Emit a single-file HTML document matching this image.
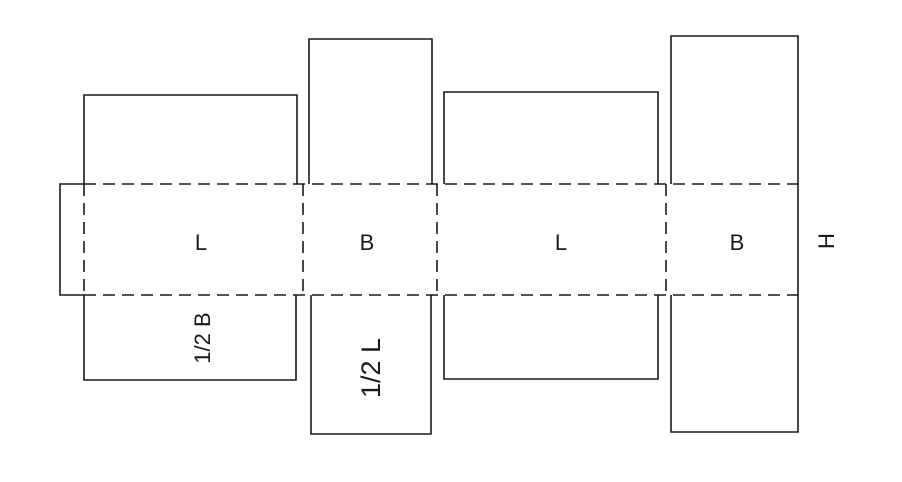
<!DOCTYPE html>
<html><head><style>body{margin:0;background:#fff}</style></head><body>
<svg width="902" height="477" viewBox="0 0 902 477" xmlns="http://www.w3.org/2000/svg" font-family="Liberation Sans, sans-serif" fill="none" stroke="#1a1a1a" stroke-width="1.6">
<rect x="0" y="0" width="902" height="477" fill="#fff" stroke="none"/>
<polyline points="84,184 84,95 297,95 297,184"/>
<polyline points="84,295 84,380 296,380 296,295"/>
<polyline points="309,184 309,39 432,39 432,184"/>
<polyline points="311,295 311,434 431,434 431,295"/>
<polyline points="444,184 444,92 658,92 658,184"/>
<polyline points="444,295 444,379 658,379 658,295"/>
<polyline points="671,184 671,36 798,36 798,184"/>
<polyline points="671,295 671,432 798,432 798,295"/>
<polyline points="84,184 60,184 60,295 84,295"/>
<line x1="798" y1="184" x2="798" y2="295"/>
<g stroke-dasharray="12,7">
<line x1="84" y1="184" x2="798" y2="184"/>
<line x1="84" y1="295" x2="798" y2="295"/>
<line x1="84" y1="184" x2="84" y2="295"/>
<line x1="303" y1="184" x2="303" y2="295"/>
<line x1="437" y1="184" x2="437" y2="295"/>
<line x1="666" y1="184" x2="666" y2="295"/>
</g>
<g fill="#1a1a1a" stroke="none" font-size="22" text-anchor="middle">
<text x="201" y="250">L</text>
<text x="367" y="250">B</text>
<text x="561" y="250">L</text>
<text x="737" y="250">B</text>
<text transform="translate(826,241) rotate(-90)" y="8">H</text>
<text transform="translate(202,338) rotate(-90)" y="8">1/2 B</text>
<text transform="translate(370,368) rotate(-90)" y="10" font-size="27">1/2 L</text>
</g>
</svg>
</body></html>
